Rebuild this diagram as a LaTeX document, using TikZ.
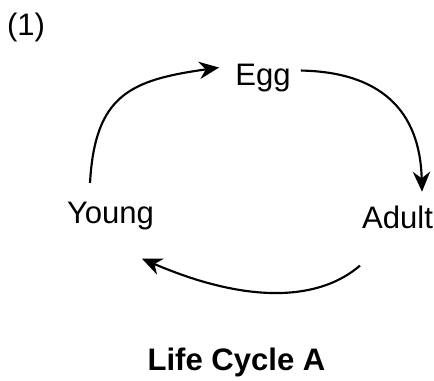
\documentclass[tikz,border=0pt]{standalone}
\usepackage{fontspec}
\setmainfont{Liberation Sans}
\usepackage{tikz}
\usetikzlibrary{arrows.meta,calc}

\begin{document}
\begin{tikzpicture}[x=0.75pt,y=0.75pt,yscale=-1,xscale=1,
  stage/.style={anchor=base,inner sep=0.75pt,font=\fontsize{23.3}{28}\selectfont},
  cyclearrow/.style={line width=1.6pt,-{Stealth[length=15pt,width=13pt]}}]
%set diagram left start at 0, and has height of 380
\path[use as bounding box] (0,0) rectangle (434,380);

% Text Node
\node[stage] (num) at (26,35) {(1)};
% Text Node
\node[stage] (egg) at (263,85) {Egg};
% Text Node
\node[stage] (young) at (110.5,223) {Young};
% Text Node
\node[stage] (adult) at (397.5,228) {Adult};
% Text Node
\node[stage,font=\fontsize{23.3}{28}\selectfont\bfseries] (title) at (236.5,370) {Life Cycle A};

%Curve Lines [young to egg]
\draw[cyclearrow] ($(young.north)+(-20.5,-17.5)$) .. controls (95,95) and (130,80) .. ($(egg.west)+(-15,-10)$) ;
%Curve Lines [egg to adult]
\draw[cyclearrow] ($(egg.east)+(9,-7)$) .. controls (380,72) and (420,110) .. ($(adult.north)+(24.5,-12.5)$) ;
%Curve Lines [adult to young]
\draw[cyclearrow] ($(adult.south)+(-37.5,36)$) .. controls (320,300) and (250,305) .. ($(young.south)+(31.5,28)$) ;

\end{tikzpicture}
\end{document}
